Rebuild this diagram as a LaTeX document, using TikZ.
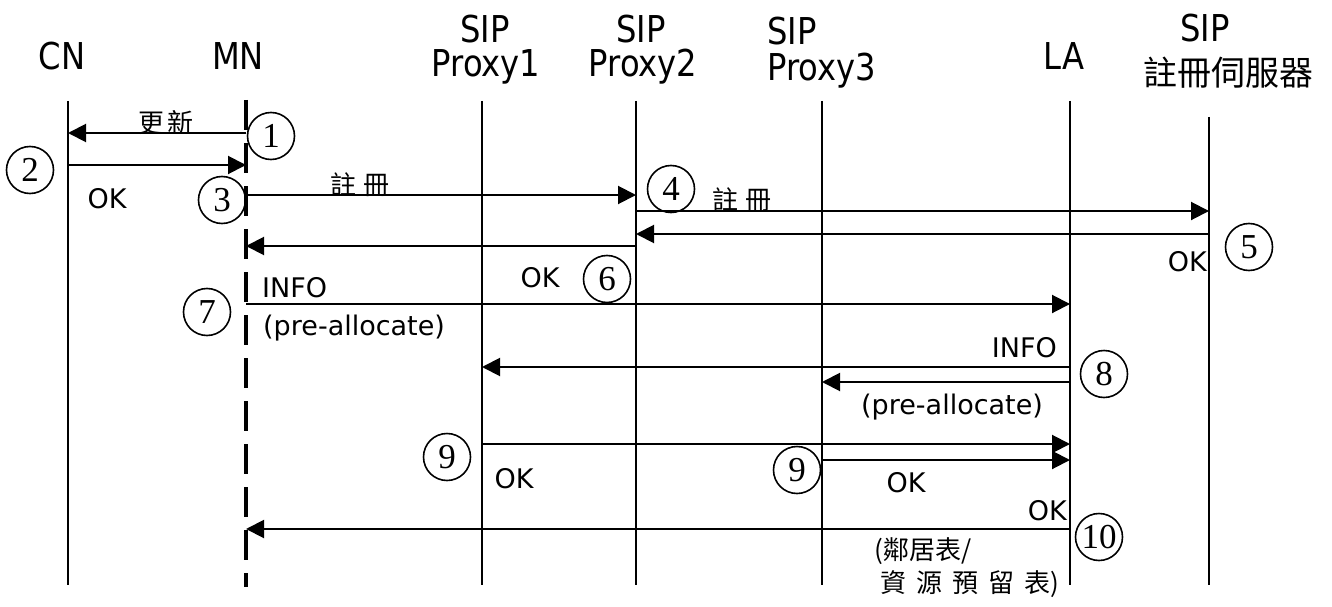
\documentclass[tikz,border=0pt]{standalone}
\usepackage{fontspec}
\setmainfont{DejaVu Sans}
\newfontfamily\hdfont[FakeStretch=0.87]{DejaVu Sans}
\newfontfamily\cjk{Noto Sans CJK TC}
\newfontfamily\numfont{Liberation Serif}
\usetikzlibrary{arrows.meta}
\begin{document}
\begin{tikzpicture}[x=1pt,y=-1pt,
  life/.style={line width=2pt},
  mnlife/.style={line width=3.5pt, dash pattern=on 30pt off 13pt},
  msg/.style={line width=2pt,-{Triangle[length=18pt,width=18pt]}},
  num/.style={circle,draw,line width=1.6pt,minimum size=47pt,inner sep=0pt,font=\numfont\fontsize{35}{35}\selectfont},
  hd/.style={anchor=base,font=\hdfont\fontsize{37}{40}\selectfont,inner sep=0pt},
  lbl/.style={anchor=base,font=\fontsize{27}{30}\selectfont,inner sep=0pt},
  cj/.style={anchor=base,font=\cjk\fontsize{26}{28}\selectfont,inner sep=0pt}]

\useasboundingbox (0,0) rectangle (1332,607);

% headers
\node[hd] (hCN) at (62,70) {CN};
\node[hd] (hMN) at (238,70) {MN};
\node[hd] (hP1a) at (485,43) {SIP};
\node[hd] (hP1b) at (486,77) {Proxy1};
\node[hd] (hP2a) at (641,43) {SIP};
\node[hd] (hP2b) at (643,77) {Proxy2};
\node[hd,anchor=base west] (hP3a) at (767,45) {SIP};
\node[hd,anchor=base west] (hP3b) at (767,81) {Proxy3};
\node[hd] (hLA) at (1064,70) {LA};
\node[hd] (hRa) at (1205,42) {SIP};
\node[anchor=base,font=\cjk\fontsize{34}{36}\selectfont,inner sep=0pt] (hRb) at (1228,86) {註冊伺服器};

% lifeline ends
\coordinate (CNt) at (68,101);  \coordinate (CNb) at (68,585);
\coordinate (MNt) at (246,100); \coordinate (MNb) at (246,587);
\coordinate (P1t) at (482,101); \coordinate (P1b) at (482,585);
\coordinate (P2t) at (636,101); \coordinate (P2b) at (636,585);
\coordinate (P3t) at (822,101); \coordinate (P3b) at (822,585);
\coordinate (LAt) at (1070,101); \coordinate (LAb) at (1070,585);
\coordinate (RGt) at (1209,117); \coordinate (RGb) at (1209,585);

\draw[life] (CNt) -- (CNb);
\draw[mnlife] (MNt) -- (MNb);
\draw[life] (P1t) -- (P1b);
\draw[life] (P2t) -- (P2b);
\draw[life] (P3t) -- (P3b);
\draw[life] (LAt) -- (LAb);
\draw[life] (RGt) -- (RGb);

% message end points
\coordinate (m1s) at (246,133);  \coordinate (m1e) at (68,133);
\coordinate (m2s) at (68,165);   \coordinate (m2e) at (246,165);
\coordinate (m3s) at (246,195);  \coordinate (m3e) at (636,195);
\coordinate (m4s) at (636,211);  \coordinate (m4e) at (1209,211);
\coordinate (m5s) at (1209,234); \coordinate (m5e) at (636,234);
\coordinate (m6s) at (636,246);  \coordinate (m6e) at (246,246);
\coordinate (m7s) at (246,304);  \coordinate (m7e) at (1070,304);
\coordinate (m8s) at (1070,367); \coordinate (m8e) at (482,367);
\coordinate (m8bs) at (1070,382); \coordinate (m8be) at (822,382);
\coordinate (m9s) at (482,444);  \coordinate (m9e) at (1070,444);
\coordinate (m9bs) at (822,460); \coordinate (m9be) at (1070,460);
\coordinate (m10s) at (1070,529); \coordinate (m10e) at (246,529);

\draw[msg] (m1s) -- (m1e);
\draw[msg] (m2s) -- (m2e);
\draw[msg] (m3s) -- (m3e);
\draw[msg] (m4s) -- (m4e);
\draw[msg] (m5s) -- (m5e);
\draw[msg] (m6s) -- (m6e);
\draw[msg] (m7s) -- (m7e);
\draw[msg] (m8s) -- (m8e);
\draw[msg] (m8bs) -- (m8be);
\draw[msg] (m9s) -- (m9e);
\draw[msg] (m9bs) -- (m9be);
\draw[msg] (m10s) -- (m10e);

% labels
\node[cj] (t1) at (166,132) {更\hspace{4pt}新};
\node[cj] (t3) at (360,194) {註\hspace{7pt}冊};
\node[cj] (t4) at (742,209) {註\hspace{7pt}冊};
\node[lbl] (ok2) at (107,208) {OK};
\node[lbl,anchor=base east] (ok5) at (1207,271) {OK};
\node[lbl] (ok6) at (540,287) {OK};
\node[lbl,anchor=base west] (info7) at (262,297) {INFO};
\node[lbl,anchor=base west] (pre7) at (263,335) {(pre-allocate)};
\node[lbl,anchor=base east] (info8) at (1057,357) {INFO};
\node[lbl] (pre8) at (952,414) {(pre-allocate)};
\node[lbl] (ok9a) at (514,488) {OK};
\node[lbl] (ok9b) at (906,492) {OK};
\node[lbl,anchor=base east] (ok10) at (1067,520) {OK};
\node[cj,anchor=base west] (tb1) at (874,559) {(鄰居表/};
\node[cj,anchor=base west] (tb2) at (880,592) {資\hspace{10pt}源\hspace{10pt}預\hspace{10pt}留\hspace{10pt}表)};

% step numbers
\node[num] (c1) at (271,136) {1};
\node[num] (c2) at (30,170) {2};
\node[num] (c3) at (222,200) {3};
\node[num] (c4) at (671,189) {4};
\node[num] (c5) at (1249,247) {5};
\node[num] (c6) at (607,279) {6};
\node[num] (c7) at (207,312) {7};
\node[num] (c8) at (1104,374) {8};
\node[num] (c9a) at (447,457) {9};
\node[num] (c9b) at (797,470) {9};
\node[num] (c10) at (1099,537) {10};
\end{tikzpicture}
\end{document}
